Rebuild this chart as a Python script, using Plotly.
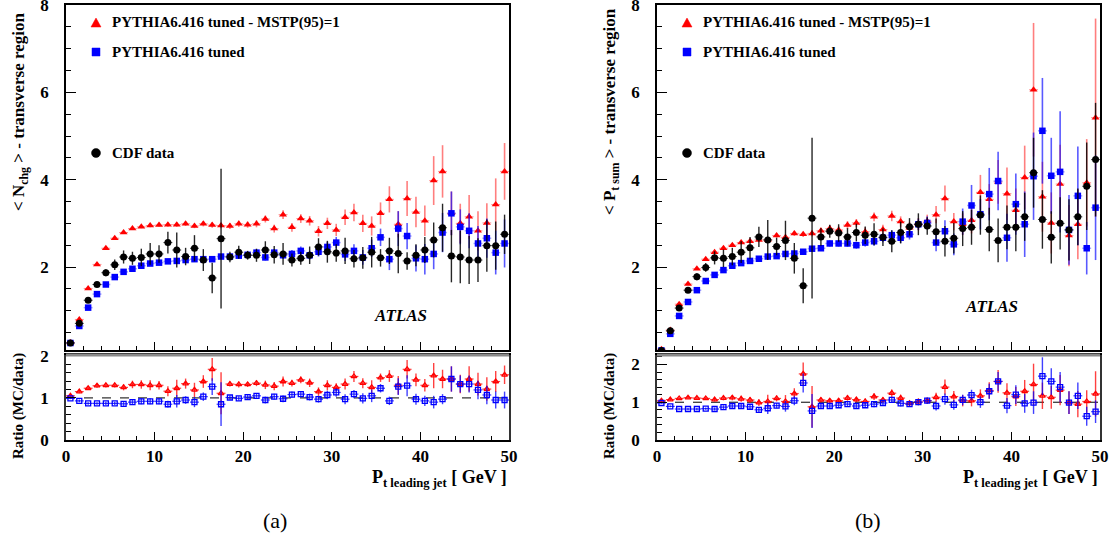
import plotly.graph_objects as go

W, H = 1116, 542
FONT = "Liberation Serif, Times New Roman, serif"

# ---------------- data ----------------
pt_bins = [i + 0.5 for i in range(50)]

# panel (a): <N_chg> transverse region
a_red = [0.27, 0.80, 1.51, 2.06, 2.43, 2.66, 2.79, 2.88, 2.92, 2.95,
         2.96, 2.97, 2.97, 2.99, 2.94, 2.99, 2.96, 2.95, 2.94, 2.99,
         2.97, 2.99, 3.10, 2.88, 3.20, 2.91, 3.11, 3.06, 2.82, 3.00,
         2.85, 3.14, 3.25, 3.00, 2.94, 3.23, 3.55, 2.98, 3.57, 3.26,
         3.06, 3.98, 4.19, 3.23, 3.00, 3.15, 2.83, 3.01, 3.43, 4.19]
a_red_err = [0.02, 0.02, 0.02, 0.02, 0.02, 0.03, 0.03, 0.03, 0.03, 0.04,
             0.04, 0.05, 0.05, 0.05, 0.05, 0.06, 0.06, 0.06, 0.07, 0.07,
             0.07, 0.08, 0.08, 0.09, 0.10, 0.10, 0.10, 0.11, 0.12, 0.13,
             0.14, 0.18, 0.20, 0.20, 0.22, 0.25, 0.30, 0.30, 0.40, 0.35,
             0.35, 0.56, 0.60, 0.50, 0.45, 0.50, 0.45, 0.45, 0.60, 0.65]
a_blue = [0.26, 0.65, 1.07, 1.38, 1.60, 1.77, 1.89, 1.96, 2.03, 2.08,
          2.10, 2.13, 2.14, 2.16, 2.18, 2.18, 2.18, 2.24, 2.24, 2.26,
          2.28, 2.33, 2.22, 2.33, 2.27, 2.30, 2.37, 2.27, 2.35, 2.46,
          2.56, 2.29, 2.37, 2.22, 2.43, 2.68, 2.18, 2.88, 2.71, 2.20,
          2.18, 2.30, 2.79, 3.23, 2.92, 2.83, 2.54, 2.66, 2.33, 2.54]
a_blue_err = [0.01, 0.01, 0.01, 0.02, 0.02, 0.02, 0.02, 0.03, 0.03, 0.03,
              0.03, 0.04, 0.04, 0.04, 0.05, 0.05, 0.05, 0.05, 0.06, 0.06,
              0.06, 0.07, 0.07, 0.08, 0.08, 0.09, 0.10, 0.10, 0.11, 0.12,
              0.13, 0.15, 0.15, 0.17, 0.20, 0.20, 0.25, 0.40, 0.30, 0.30,
              0.35, 0.35, 0.45, 0.50, 0.40, 0.40, 0.40, 0.45, 0.50, 0.55]
a_data = [0.26, 0.71, 1.24, 1.60, 1.87, 2.05, 2.23, 2.20, 2.22, 2.30,
          2.30, 2.56, 2.39, 2.24, 2.43, 2.16, 1.75, 2.65, 2.23, 2.34,
          2.27, 2.27, 2.39, 2.28, 2.30, 2.16, 2.20, 2.27, 2.46, 2.35,
          2.32, 2.37, 2.19, 2.21, 2.34, 2.21, 2.37, 2.31, 2.14, 2.27,
          2.39, 2.62, 2.90, 2.25, 2.23, 2.16, 2.16, 2.49, 2.49, 2.75]
a_data_err = [0.02, 0.03, 0.04, 0.05, 0.08, 0.12, 0.15, 0.15, 0.20, 0.25,
              0.20, 0.25, 0.40, 0.20, 0.30, 0.25, 0.35, 1.60, 0.12, 0.15,
              0.10, 0.15, 0.20, 0.20, 0.25, 0.15, 0.15, 0.20, 0.20, 0.25,
              0.20, 0.30, 0.20, 0.25, 0.35, 0.20, 0.30, 0.45, 0.20, 0.25,
              0.30, 0.40, 0.55, 0.60, 0.60, 0.55, 0.50, 0.60, 0.55, 0.45]
a_ratio_red = [1.05, 1.15, 1.23, 1.29, 1.30, 1.30, 1.25, 1.32, 1.32, 1.30,
               1.30, 1.16, 1.23, 1.34, 1.19, 1.39, 1.68, 1.11, 1.33, 1.32,
               1.32, 1.35, 1.31, 1.28, 1.39, 1.35, 1.43, 1.36, 1.15, 1.30,
               1.25, 1.33, 1.51, 1.35, 1.25, 1.48, 1.52, 1.30, 1.68, 1.43,
               1.30, 1.53, 1.45, 1.45, 1.33, 1.45, 1.33, 1.21, 1.39, 1.55]
a_ratio_red_err = [0.03, 0.04, 0.04, 0.05, 0.05, 0.05, 0.07, 0.09, 0.10, 0.12,
                   0.10, 0.12, 0.20, 0.12, 0.17, 0.15, 0.27, 0.50, 0.06, 0.07,
                   0.06, 0.07, 0.10, 0.10, 0.12, 0.08, 0.08, 0.10, 0.10, 0.12,
                   0.10, 0.13, 0.13, 0.12, 0.17, 0.10, 0.14, 0.22, 0.22, 0.15,
                   0.15, 0.30, 0.22, 0.30, 0.22, 0.30, 0.27, 0.28, 0.25, 0.22]
a_ratio_blue = [0.99, 0.93, 0.87, 0.87, 0.87, 0.87, 0.86, 0.90, 0.92, 0.92,
                0.92, 0.85, 0.92, 0.95, 0.90, 1.03, 1.27, 0.85, 1.01, 0.99,
                1.02, 1.05, 0.95, 1.03, 0.98, 1.08, 1.09, 1.02, 0.97, 1.07,
                1.13, 0.97, 1.09, 0.99, 1.05, 1.23, 0.93, 1.27, 1.29, 0.97,
                0.93, 0.90, 0.97, 1.45, 1.33, 1.33, 1.19, 1.07, 0.95, 0.95]
a_ratio_blue_err = [0.02, 0.03, 0.03, 0.03, 0.04, 0.04, 0.05, 0.06, 0.07, 0.07,
                    0.07, 0.08, 0.15, 0.09, 0.12, 0.10, 0.20, 0.52, 0.05, 0.05,
                    0.05, 0.05, 0.08, 0.07, 0.08, 0.07, 0.07, 0.08, 0.08, 0.10,
                    0.10, 0.12, 0.10, 0.12, 0.15, 0.10, 0.10, 0.20, 0.25, 0.13,
                    0.12, 0.15, 0.12, 0.30, 0.20, 0.20, 0.22, 0.22, 0.20, 0.20]

# panel (b): <P_t sum> transverse region
b_red = [0.12, 0.56, 1.15, 1.61, 1.96, 2.18, 2.34, 2.43, 2.50, 2.56,
         2.59, 2.62, 2.62, 2.72, 2.68, 2.77, 2.75, 2.77, 2.83, 2.88,
         2.85, 2.96, 3.01, 2.81, 3.15, 2.86, 3.17, 3.04, 2.90, 2.98,
         3.05, 3.20, 3.57, 3.04, 2.98, 3.07, 3.71, 3.55, 3.95, 3.68,
         3.30, 4.05, 6.06, 3.61, 3.01, 3.90, 2.72, 2.98, 3.93, 5.42]
b_red_err = [0.01, 0.01, 0.02, 0.02, 0.02, 0.03, 0.03, 0.03, 0.04, 0.04,
             0.04, 0.05, 0.05, 0.05, 0.06, 0.06, 0.06, 0.07, 0.07, 0.08,
             0.08, 0.09, 0.09, 0.10, 0.10, 0.11, 0.12, 0.12, 0.13, 0.14,
             0.15, 0.20, 0.30, 0.20, 0.25, 0.30, 0.40, 0.35, 0.50, 0.60,
             0.50, 0.73, 1.53, 0.80, 0.70, 0.90, 0.70, 0.80, 1.00, 2.27]
b_blue = [0.09, 0.47, 0.88, 1.20, 1.47, 1.68, 1.82, 1.93, 2.03, 2.09,
          2.14, 2.19, 2.24, 2.25, 2.30, 2.31, 2.35, 2.42, 2.43, 2.54,
          2.54, 2.54, 2.50, 2.56, 2.59, 2.67, 2.73, 2.67, 2.75, 2.98,
          3.01, 2.56, 2.82, 2.52, 3.04, 3.41, 3.21, 3.67, 3.97, 2.67,
          3.44, 2.98, 4.08, 5.12, 4.09, 4.18, 2.85, 3.63, 2.43, 3.36]
b_blue_err = [0.01, 0.01, 0.01, 0.02, 0.02, 0.02, 0.02, 0.03, 0.03, 0.03,
              0.04, 0.04, 0.04, 0.05, 0.05, 0.05, 0.06, 0.06, 0.06, 0.07,
              0.07, 0.08, 0.08, 0.09, 0.10, 0.10, 0.11, 0.12, 0.12, 0.13,
              0.15, 0.20, 0.25, 0.25, 0.30, 0.47, 0.35, 0.60, 0.67, 0.55,
              0.70, 0.75, 1.00, 1.21, 0.87, 1.39, 0.80, 1.13, 0.60, 1.20]
b_data = [0.09, 0.54, 1.06, 1.47, 1.78, 1.99, 2.21, 2.20, 2.24, 2.34,
          2.44, 2.69, 2.62, 2.47, 2.61, 2.20, 1.57, 3.12, 2.69, 2.82,
          2.78, 2.69, 2.79, 2.73, 2.75, 2.68, 2.59, 2.79, 2.92, 2.98,
          2.94, 2.81, 2.59, 2.66, 2.88, 2.91, 3.19, 2.86, 2.61, 2.91,
          2.91, 3.15, 4.16, 3.09, 2.68, 3.00, 2.85, 3.15, 3.85, 4.46]
b_data_err = [0.01, 0.03, 0.04, 0.05, 0.08, 0.10, 0.15, 0.20, 0.20, 0.25,
              0.25, 0.23, 0.46, 0.20, 0.45, 0.35, 0.40, 1.84, 0.20, 0.15,
              0.20, 0.20, 0.20, 0.20, 0.25, 0.20, 0.25, 0.25, 0.20, 0.25,
              0.20, 0.30, 0.35, 0.35, 0.40, 0.40, 0.45, 0.50, 0.50, 0.50,
              0.55, 0.55, 0.80, 0.67, 0.60, 0.60, 0.70, 0.65, 1.00, 1.30]
b_ratio_red = [1.04, 1.07, 1.10, 1.12, 1.11, 1.10, 1.07, 1.11, 1.12, 1.09,
               1.06, 0.99, 1.02, 1.10, 1.02, 1.23, 1.75, 0.88, 1.06, 1.04,
               1.04, 1.11, 1.07, 1.02, 1.15, 1.06, 1.24, 1.11, 0.97, 1.01,
               1.04, 1.13, 1.40, 1.15, 1.04, 1.04, 1.17, 1.31, 1.55, 1.25,
               1.15, 1.29, 1.47, 1.17, 1.13, 1.32, 0.99, 0.95, 1.02, 1.22]
b_ratio_red_err = [0.03, 0.03, 0.03, 0.03, 0.04, 0.04, 0.05, 0.06, 0.07, 0.08,
                   0.08, 0.09, 0.18, 0.08, 0.17, 0.14, 0.30, 0.55, 0.07, 0.06,
                   0.07, 0.07, 0.07, 0.08, 0.09, 0.08, 0.10, 0.09, 0.08, 0.09,
                   0.08, 0.12, 0.20, 0.15, 0.15, 0.15, 0.17, 0.22, 0.30, 0.25,
                   0.25, 0.30, 0.55, 0.35, 0.30, 0.40, 0.30, 0.35, 0.30, 0.60]
b_ratio_blue = [0.98, 0.89, 0.82, 0.82, 0.82, 0.83, 0.82, 0.87, 0.90, 0.90,
                0.88, 0.80, 0.84, 0.91, 0.89, 1.04, 1.51, 0.77, 0.90, 0.90,
                0.92, 0.95, 0.90, 0.92, 0.95, 0.98, 1.06, 0.97, 0.95, 1.00,
                1.04, 0.90, 1.08, 0.93, 1.06, 1.19, 1.00, 1.29, 1.55, 0.91,
                1.20, 0.97, 0.99, 1.69, 1.55, 1.40, 0.99, 1.17, 0.63, 0.75]
b_ratio_blue_err = [0.02, 0.02, 0.02, 0.03, 0.03, 0.03, 0.04, 0.05, 0.06, 0.06,
                    0.07, 0.07, 0.15, 0.07, 0.14, 0.12, 0.25, 0.45, 0.06, 0.05,
                    0.06, 0.06, 0.06, 0.07, 0.08, 0.07, 0.08, 0.08, 0.07, 0.08,
                    0.08, 0.12, 0.15, 0.13, 0.14, 0.14, 0.15, 0.20, 0.25, 0.20,
                    0.25, 0.25, 0.30, 0.50, 0.35, 0.40, 0.30, 0.35, 0.25, 0.30]

legend_labels = ["PYTHIA6.416 tuned - MSTP(95)=1", "PYTHIA6.416 tuned", "CDF data"]
ytitles = ["&lt; N<sub>chg</sub> &gt; - transverse region",
           "&lt; P<sub>t sum</sub> &gt; - transverse region"]
xtitle = "P<sub>t leading jet</sub> [ GeV ]"
ratio_title = "Ratio (MC/data)"
panel_labels = ["(a)", "(b)"]

# ---------------- figure ----------------
fig = go.Figure()

RED_ERR = "rgba(255,40,40,0.6)"
BLUE_ERR = "rgba(0,0,255,0.65)"


def main_traces(xa, ya, red, red_e, blue, blue_e, dat, dat_e):
    fig.add_trace(go.Scatter(
        x=pt_bins, y=red, mode="markers", xaxis=xa, yaxis=ya, showlegend=False,
        marker=dict(symbol="triangle-up", size=7, color="red", line=dict(width=0)),
        error_y=dict(type="data", array=red_e, color=RED_ERR, thickness=1.6, width=0),
        error_x=dict(type="constant", value=0.5, color="rgba(255,0,0,0.45)", thickness=1, width=0)))
    fig.add_trace(go.Scatter(
        x=pt_bins, y=blue, mode="markers", xaxis=xa, yaxis=ya, showlegend=False,
        marker=dict(symbol="square", size=6.5, color="blue", line=dict(width=0)),
        error_y=dict(type="data", array=blue_e, color=BLUE_ERR, thickness=1.6, width=0),
        error_x=dict(type="constant", value=0.5, color="rgba(70,70,255,0.5)", thickness=1.5, width=0)))
    fig.add_trace(go.Scatter(
        x=pt_bins, y=dat, mode="markers", xaxis=xa, yaxis=ya, showlegend=False,
        marker=dict(symbol="circle", size=7, color="black", line=dict(width=0)),
        error_y=dict(type="data", array=dat_e, color="rgba(0,0,0,0.85)", thickness=1.4, width=0),
        error_x=dict(type="constant", value=0.5, color="rgba(0,0,0,0.8)", thickness=1, width=0)))


def ratio_traces(xa, ya, rr, rr_e, rb, rb_e):
    fig.add_trace(go.Scatter(
        x=pt_bins, y=rr, mode="markers", xaxis=xa, yaxis=ya, showlegend=False,
        marker=dict(symbol="triangle-up-open", size=5, color="red", line=dict(width=1.3)),
        error_y=dict(type="data", array=rr_e, color="rgba(255,0,0,0.75)", thickness=1.4, width=0),
        error_x=dict(type="constant", value=0.5, color="rgba(255,0,0,0.75)", thickness=1.2, width=0)))
    fig.add_trace(go.Scatter(
        x=pt_bins, y=rb, mode="markers", xaxis=xa, yaxis=ya, showlegend=False,
        marker=dict(symbol="square-open", size=5, color="blue", line=dict(width=1.3)),
        error_y=dict(type="data", array=rb_e, color="rgba(0,0,255,0.75)", thickness=1.4, width=0),
        error_x=dict(type="constant", value=0.5, color="rgba(0,0,255,0.8)", thickness=1.2, width=0)))


main_traces("x", "y", a_red, a_red_err, a_blue, a_blue_err, a_data, a_data_err)
ratio_traces("x2", "y2", a_ratio_red, a_ratio_red_err, a_ratio_blue, a_ratio_blue_err)
main_traces("x3", "y3", b_red, b_red_err, b_blue, b_blue_err, b_data, b_data_err)
ratio_traces("x4", "y4", b_ratio_red, b_ratio_red_err, b_ratio_blue, b_ratio_blue_err)

# ---------------- layout ----------------
def fx(px):
    return px / W


def fy(py):
    return 1 - py / H


tickfont = dict(family=FONT, size=17, color="black", weight="bold")


def xax(dom, anchor, labels):
    return dict(domain=dom, anchor=anchor, range=[0, 50], dtick=10, tick0=0,
                ticks="inside", ticklen=8, tickwidth=1.2, tickcolor="black",
                minor=dict(dtick=2, tick0=0, ticks="inside", ticklen=4, tickcolor="black", tickwidth=1),
                showticklabels=labels, tickfont=tickfont, showgrid=False, zeroline=False,
                automargin=False, ticklabeloverflow="allow",
                showline=True, mirror=True, linecolor="black", linewidth=1.6)


def yax(dom, anchor, rng, dtick, mdtick, lcol="black"):
    return dict(domain=dom, anchor=anchor, range=rng, dtick=dtick, tick0=0,
                ticks="inside", ticklen=10, tickwidth=1.2, tickcolor="black",
                minor=dict(dtick=mdtick, tick0=0, ticks="inside", ticklen=5, tickcolor="black", tickwidth=1),
                tickfont=tickfont, showgrid=False, zeroline=False, ticklabelstandoff=12,
                automargin=False, ticklabeloverflow="allow",
                showline=True, mirror=True, linecolor=lcol, linewidth=1.6)


dom_a = [fx(66), fx(509)]
dom_b = [fx(657), fx(1100)]
dom_main = [fy(350), fy(5)]
dom_ratio = [fy(440), fy(355)]

fig.update_layout(
    template="none",
    width=W, height=H, margin=dict(l=0, r=0, t=0, b=0, pad=0, autoexpand=False),
    paper_bgcolor="white", plot_bgcolor="white", showlegend=False,
    xaxis=xax(dom_a, "y", False),
    yaxis=yax(dom_main, "x", [0.1, 8.001], 2, 0.5),
    xaxis2=xax(dom_a, "y2", True),
    yaxis2=yax(dom_ratio, "x2", [0, 2.02], 1, 0.2, "#333"),
    xaxis3=xax(dom_b, "y3", False),
    yaxis3=yax(dom_main, "x3", [0.1, 8.001], 2, 0.5),
    xaxis4=xax(dom_b, "y4", True),
    yaxis4=yax(dom_ratio, "x4", [0, 2.25], 1, 0.2, "#333"),
)

shapes = []
annotations = []
for i, (xl, xr, xa, ya) in enumerate([(66, 509, "x2", "y2"), (657, 1100, "x4", "y4")]):
    off = xl - 66
    shapes.append(dict(type="line", xref=xa, yref=ya, x0=0, x1=50, y0=1, y1=1,
                       line=dict(color="black", width=1, dash="dash"), layer="below"))
    shapes.append(dict(type="line", xref="paper", yref="paper", x0=fx(xl), x1=fx(xr),
                       y0=fy(355), y1=fy(355), line=dict(color="#8a8a8a", width=3)))
    cx = 96 + off
    tri = [(cx - 5, 27), (cx + 5, 27), (cx, 18)]
    path = "M {} {} L {} {} L {} {} Z".format(fx(tri[0][0]), fy(tri[0][1]), fx(tri[1][0]), fy(tri[1][1]),
                                             fx(tri[2][0]), fy(tri[2][1]))
    shapes.append(dict(type="path", xref="paper", yref="paper", path=path,
                       fillcolor="red", line=dict(color="red", width=0.5)))
    shapes.append(dict(type="rect", xref="paper", yref="paper", x0=fx(cx - 4), x1=fx(cx + 4),
                       y0=fy(56), y1=fy(48), fillcolor="blue", line=dict(color="blue", width=0.5)))
    shapes.append(dict(type="circle", xref="paper", yref="paper", x0=fx(cx - 4.5), x1=fx(cx + 4.5),
                       y0=fy(157.5), y1=fy(148.5), fillcolor="black", line=dict(color="black", width=0.5)))
    for lbl, yy in zip(legend_labels, [23, 52, 153]):
        annotations.append(dict(xref="paper", yref="paper", x=fx(110 + off), y=fy(yy), text=lbl,
                                xanchor="left", yanchor="middle", showarrow=False,
                                font=dict(family=FONT, size=15, color="black", weight="bold")))
    annotations.append(dict(xref="paper", yref="paper", x=fx(20 + off), y=fy(112),
                            text=ytitles[i], textangle=-90, xanchor="center", yanchor="middle",
                            showarrow=False, font=dict(family=FONT, size=17, color="black", weight="bold")))
    annotations.append(dict(xref="paper", yref="paper", x=fx(18 + off), y=fy(406),
                            text=ratio_title, textangle=-90, xanchor="center", yanchor="middle",
                            showarrow=False, font=dict(family=FONT, size=15, color="black", weight="bold")))
    annotations.append(dict(xref="paper", yref="paper", x=fx(xr), y=fy(478), text=xtitle,
                            xanchor="right", yanchor="middle", showarrow=False,
                            font=dict(family=FONT, size=18, color="black", weight="bold")))
    annotations.append(dict(xref="paper", yref="paper", x=fx([400, 991][i]), y=fy([315, 306][i]),
                            text="<i>ATLAS</i>", xanchor="center", yanchor="middle", showarrow=False,
                            font=dict(family=FONT, size=17, color="black", weight="bold")))
    annotations.append(dict(xref="paper", yref="paper", x=fx([275, 868][i]), y=fy(520),
                            text=panel_labels[i], xanchor="center", yanchor="middle", showarrow=False,
                            font=dict(family=FONT, size=22, color="black")))

fig.update_layout(shapes=shapes, annotations=annotations)

fig.write_html("out.html",
               config={"displayModeBar": False},
               post_script="document.body.style.margin='0';document.body.style.padding='0';"
                           "document.documentElement.style.overflow='hidden';")
